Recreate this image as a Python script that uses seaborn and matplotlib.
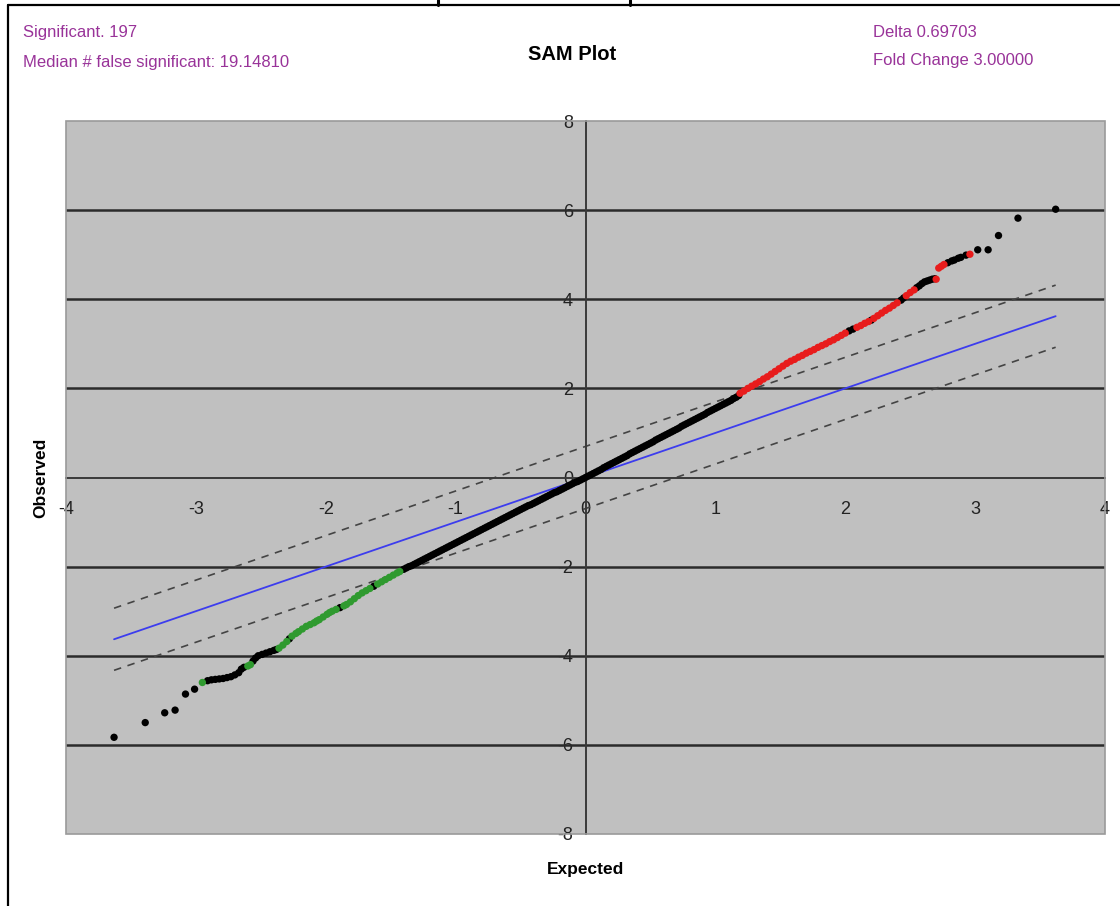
import matplotlib
matplotlib.use("Agg")
import matplotlib.pyplot as plt
from matplotlib.lines import Line2D
from matplotlib.patches import Rectangle
import seaborn as sns
import pandas as pd

# ---- data -------------------------------------------------------------
delta = 0.69703
n_significant = 197
median_false = 19.14810
fold_change = 3.00000

# genes not called significant: lower tail
ns_low_expected = [
    -3.63, -3.39, -3.24, -3.16, -3.08, -3.01,
    -2.91, -2.88, -2.85, -2.82, -2.79, -2.76, -2.73, -2.70, -2.67, -2.65, -2.63,
    -2.56, -2.54, -2.52, -2.49, -2.46, -2.43, -2.40, -2.38,
    -2.28, -1.89, -1.63,
]
ns_low_observed = [
    -5.83, -5.50, -5.28, -5.22, -4.86, -4.75,
    -4.56, -4.54, -4.53, -4.52, -4.51, -4.49, -4.47, -4.43, -4.38, -4.30, -4.26,
    -4.12, -4.05, -4.00, -3.97, -3.94, -3.91, -3.88, -3.86,
    -3.62, -2.92, -2.44,
]

# genes not called significant: central bulk
ns_mid_expected = [
    -1.40, -1.38, -1.36, -1.34, -1.32, -1.30, -1.28, -1.26, -1.24, -1.22,
    -1.20, -1.18, -1.16, -1.14, -1.12, -1.10, -1.08, -1.06, -1.04, -1.02,
    -1.00, -0.98, -0.96, -0.94, -0.92, -0.90, -0.88, -0.86, -0.84, -0.82,
    -0.80, -0.78, -0.76, -0.74, -0.72, -0.70, -0.68, -0.66, -0.64, -0.62,
    -0.60, -0.58, -0.56, -0.54, -0.52, -0.50, -0.48, -0.46, -0.44, -0.42,
    -0.40, -0.38, -0.36, -0.34, -0.32, -0.30, -0.28, -0.26, -0.24, -0.22,
    -0.20, -0.18, -0.16, -0.14, -0.12, -0.10, -0.08, -0.06, -0.04, -0.02,
    0.00, 0.02, 0.04, 0.06, 0.08, 0.10, 0.12, 0.14, 0.16, 0.18,
    0.20, 0.22, 0.24, 0.26, 0.28, 0.30, 0.32, 0.34, 0.36, 0.38,
    0.40, 0.42, 0.44, 0.46, 0.48, 0.50, 0.52, 0.54, 0.56, 0.58,
    0.60, 0.62, 0.64, 0.66, 0.68, 0.70, 0.72, 0.74, 0.76, 0.78,
    0.80, 0.82, 0.84, 0.86, 0.88, 0.90, 0.92, 0.94, 0.96, 0.98,
    1.00, 1.02, 1.04, 1.06, 1.08, 1.10, 1.12, 1.14, 1.16, 1.18,
]
ns_mid_observed = [
    -2.06, -2.03, -2.00, -1.98, -1.95, -1.92, -1.89, -1.86, -1.83, -1.80,
    -1.77, -1.74, -1.71, -1.68, -1.65, -1.62, -1.59, -1.56, -1.53, -1.50,
    -1.47, -1.44, -1.41, -1.38, -1.35, -1.32, -1.29, -1.26, -1.23, -1.20,
    -1.17, -1.14, -1.11, -1.08, -1.05, -1.02, -0.99, -0.96, -0.93, -0.90,
    -0.87, -0.84, -0.81, -0.78, -0.75, -0.72, -0.69, -0.66, -0.63, -0.61,
    -0.58, -0.55, -0.52, -0.49, -0.46, -0.43, -0.40, -0.37, -0.34, -0.32,
    -0.29, -0.26, -0.23, -0.20, -0.17, -0.14, -0.11, -0.09, -0.06, -0.03,
    0.00, 0.03, 0.06, 0.09, 0.12, 0.15, 0.18, 0.22, 0.25, 0.28,
    0.31, 0.34, 0.37, 0.40, 0.43, 0.46, 0.49, 0.53, 0.56, 0.59,
    0.62, 0.65, 0.68, 0.71, 0.74, 0.77, 0.80, 0.84, 0.87, 0.90,
    0.93, 0.96, 0.99, 1.02, 1.05, 1.08, 1.11, 1.15, 1.18, 1.21,
    1.24, 1.27, 1.30, 1.33, 1.36, 1.39, 1.42, 1.46, 1.49, 1.52,
    1.55, 1.58, 1.61, 1.64, 1.67, 1.70, 1.73, 1.77, 1.80, 1.84,
]

# genes not called significant: upper tail
ns_high_expected = [
    2.03, 2.06, 2.20, 2.43, 2.45,
    2.55, 2.57, 2.59, 2.61, 2.63, 2.65, 2.67, 2.69,
    2.79, 2.82, 2.84, 2.87, 2.89, 2.93,
    3.02, 3.10, 3.18, 3.33, 3.62,
]
ns_high_observed = [
    3.29, 3.33, 3.53, 3.98, 4.03,
    4.26, 4.30, 4.35, 4.39, 4.41, 4.43, 4.45, 4.46,
    4.82, 4.86, 4.88, 4.92, 4.94, 4.99,
    5.11, 5.11, 5.43, 5.82, 6.02,
]

# significant, down-regulated
down_expected = [
    -2.95, -2.60, -2.58,
    -2.36, -2.33, -2.30, -2.26, -2.23, -2.21, -2.18, -2.15, -2.12, -2.09,
    -2.07, -2.05, -2.02, -1.99, -1.97, -1.95, -1.92, -1.86, -1.84, -1.81,
    -1.78, -1.75, -1.72, -1.69, -1.66, -1.60, -1.57, -1.54, -1.51, -1.48,
    -1.45, -1.43,
]
down_observed = [
    -4.60, -4.23, -4.20,
    -3.83, -3.76, -3.68, -3.56, -3.50, -3.46, -3.40, -3.34, -3.30, -3.26,
    -3.22, -3.19, -3.13, -3.07, -3.03, -3.00, -2.96, -2.88, -2.85, -2.79,
    -2.72, -2.65, -2.59, -2.54, -2.49, -2.39, -2.34, -2.29, -2.24, -2.19,
    -2.14, -2.11,
]

# significant, up-regulated
up_expected = [
    1.19, 1.22, 1.25, 1.28, 1.31, 1.34, 1.37, 1.40, 1.43, 1.46,
    1.49, 1.52, 1.55, 1.58, 1.61, 1.64, 1.67, 1.70, 1.73, 1.76,
    1.79, 1.82, 1.85, 1.88, 1.91, 1.94, 1.97, 2.00, 2.09, 2.12,
    2.15, 2.18, 2.22, 2.25, 2.28, 2.31, 2.34, 2.37, 2.40, 2.47,
    2.50, 2.53, 2.70, 2.72, 2.74, 2.76, 2.96,
]
up_observed = [
    1.89, 1.94, 2.00, 2.05, 2.10, 2.15, 2.21, 2.26, 2.32, 2.38,
    2.44, 2.50, 2.56, 2.61, 2.65, 2.70, 2.74, 2.79, 2.83, 2.87,
    2.92, 2.96, 3.00, 3.05, 3.09, 3.14, 3.19, 3.24, 3.37, 3.41,
    3.46, 3.50, 3.57, 3.63, 3.69, 3.75, 3.80, 3.86, 3.92, 4.08,
    4.15, 4.21, 4.45, 4.70, 4.74, 4.78, 5.01,
]

line_ends = [-3.63, 3.62]
grid_levels = [-6, -4, -2, 2, 4, 6]
x_ticks = [-4, -3, -2, -1, 0, 1, 2, 3, 4]
y_ticks = [-8, -6, -4, -2, 0, 2, 4, 6, 8]

points = pd.concat([
    pd.DataFrame({"Expected": ns_low_expected + ns_mid_expected + ns_high_expected,
                  "Observed": ns_low_observed + ns_mid_observed + ns_high_observed,
                  "call": "ns"}),
    pd.DataFrame({"Expected": down_expected, "Observed": down_observed, "call": "down"}),
    pd.DataFrame({"Expected": up_expected, "Observed": up_observed, "call": "up"}),
], ignore_index=True)

lines = pd.DataFrame({
    "Expected": line_ends * 3,
    "value": [line_ends[0], line_ends[1],
              line_ends[0] + delta, line_ends[1] + delta,
              line_ends[0] - delta, line_ends[1] - delta],
    "kind": ["identity", "identity", "upper", "upper", "lower", "lower"],
})

# ---- style ------------------------------------------------------------
sns.set_style("white")
plt.rcParams["font.family"] = ["Liberation Sans", "DejaVu Sans"]

W, H = 1120, 906
fig = plt.figure(figsize=(W / 100, H / 100), dpi=100)
fig.patch.set_facecolor("white")


def fx(px):
    return px / W


def fy(py):
    return 1 - py / H


ax = fig.add_axes([fx(66), fy(834), fx(1105) - fx(66), fy(121) - fy(834)])
ax.set_facecolor("#C0C0C0")
ax.set_xlim(-4, 4)
ax.set_ylim(-8, 8)

for lvl in grid_levels:
    ax.axhline(lvl, color="#2b2b2b", lw=1.8, zorder=1)

# identity line and the +/- delta cutoff band
sns.lineplot(data=lines[lines.kind == "identity"], x="Expected", y="value",
             color="#3c3cEE", lw=1.3, ax=ax, zorder=2)
for k in ["upper", "lower"]:
    sns.lineplot(data=lines[lines.kind == k], x="Expected", y="value",
                 color="#444444", lw=1.2, ax=ax, zorder=2,
                 linestyle=(0, (4.5, 4)))

sns.scatterplot(data=points, x="Expected", y="Observed", hue="call",
                palette={"ns": "black", "down": "#2f9a2f", "up": "#e81c1c"},
                s=28, linewidth=0, legend=False, ax=ax, zorder=3)

# axes crossing at the origin
for side in ["top", "right"]:
    ax.spines[side].set_visible(False)
for side in ["left", "bottom"]:
    ax.spines[side].set_position(("data", 0))
    ax.spines[side].set_color("#3a3a3a")
    ax.spines[side].set_linewidth(1.4)
    ax.spines[side].set_zorder(2.5)

ax.set_xticks(x_ticks)
ax.set_yticks(y_ticks)
ax.set_xticklabels([str(v) for v in x_ticks])
ax.set_yticklabels([str(v) for v in y_ticks])
ax.tick_params(axis="x", direction="out", length=5, width=1, color="#3a3a3a",
               labelcolor="#222222", labelsize=13, pad=12)
ax.tick_params(axis="y", direction="out", length=4, width=1, color="#3a3a3a",
               labelcolor="#222222", labelsize=13, pad=5)
ax.set_xlabel("")
ax.set_ylabel("")

# plot-area border
ax.add_patch(Rectangle((0, 0), 1, 1, transform=ax.transAxes, fill=False,
                       edgecolor="#9a9a9a", lw=1.2, zorder=4, clip_on=False))

# chart titles and annotations
purple = "#993399"
fig.text(fx(22.7), fy(37.3), f"Significant. {n_significant}", color=purple,
         fontsize=12, va="baseline", ha="left")
fig.text(fx(22.7), fy(66.5), f"Median # false significant: {median_false:.5f}",
         color=purple, fontsize=12, va="baseline", ha="left")
fig.text(fx(872.7), fy(37.3), f"Delta {delta:.5f}", color=purple,
         fontsize=12, va="baseline", ha="left")
fig.text(fx(872.7), fy(65.5), f"Fold Change {fold_change:.5f}", color=purple,
         fontsize=12, va="baseline", ha="left")
fig.text(fx(572), fy(60), "SAM Plot", color="black", fontsize=14.5,
         fontweight="bold", va="baseline", ha="center")
fig.text(fx(585.3), fy(874), "Expected", color="black", fontsize=12.5,
         fontweight="bold", va="baseline", ha="center")
fig.text(fx(41), fy(477.5), "Observed", color="black", fontsize=12.5,
         fontweight="bold", va="center", ha="center", rotation=90)

# outer chart frame
fig.add_artist(Line2D([fx(8), fx(8)], [fy(5), 0], color="black", lw=1.6))
fig.add_artist(Line2D([fx(8), 1], [fy(5), fy(5)], color="black", lw=1.6))
for px in [437.5, 630]:
    fig.add_artist(Line2D([fx(px), fx(px)], [1, fy(5)], color="black", lw=2.2))

fig.savefig("out.png", dpi=100)
